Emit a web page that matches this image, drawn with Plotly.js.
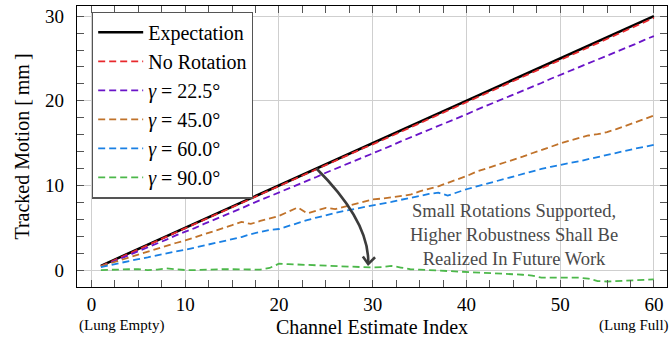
<!DOCTYPE html>
<html>
<head>
<meta charset="utf-8">
<script src="https://cdn.plot.ly/plotly-3.0.1.min.js"></script>
<style>html,body{margin:0;padding:0;background:#fff;}#chart{width:672px;height:339px;}</style>
</head>
<body>
<div id="chart"></div>
<script>
const channelIndex = [1,2,3,4,5,6,7,8,9,10,11,12,13,14,15,16,17,18,19,20,21,22,23,24,25,26,27,28,29,30,31,32,33,34,35,36,37,38,39,40,41,42,43,44,45,46,47,48,49,50,51,52,53,54,55,56,57,58,59,60];

const expectation = [0.5,1.0,1.5,2.0,2.5,3.0,3.5,4.0,4.5,5.0,5.5,6.0,6.5,7.0,7.5,8.0,8.5,9.0,9.5,10.0,10.5,11.0,11.5,12.0,12.5,13.0,13.5,14.0,14.5,15.0,15.5,16.0,16.5,17.0,17.5,18.0,18.5,19.0,19.5,20.0,20.5,21.0,21.5,22.0,22.5,23.0,23.5,24.0,24.5,25.0,25.5,26.0,26.5,27.0,27.5,28.0,28.5,29.0,29.5,30.0];

const noRotation = [0.45,0.95,1.45,1.95,2.45,2.95,3.45,3.95,4.45,4.95,5.45,5.95,6.45,6.95,7.45,7.9,8.4,8.9,9.4,9.9,10.4,10.9,11.4,11.9,12.4,12.9,13.4,13.9,14.4,14.85,15.35,15.85,16.35,16.85,17.35,17.85,18.35,18.85,19.35,19.85,20.35,20.85,21.35,21.85,22.35,22.85,23.35,23.85,24.35,24.8,25.3,25.8,26.3,26.8,27.3,27.8,28.3,28.8,29.3,29.8];

const gamma22 = [0.4,0.85,1.3,1.8,2.25,2.7,3.15,3.6,4.1,4.5,4.95,5.45,5.9,6.4,6.85,7.3,7.8,8.25,8.7,9.2,9.65,10.1,10.55,11.0,11.5,11.95,12.4,12.85,13.35,13.8,14.25,14.7,15.2,15.65,16.1,16.55,17.0,17.5,17.95,18.4,18.9,19.35,19.8,20.25,20.7,21.2,21.65,22.1,22.6,23.05,23.5,23.95,24.4,24.9,25.35,25.8,26.25,26.7,27.2,27.65];

const gamma45 = [0.45,0.8,1.15,1.5,1.8,2.15,2.5,2.85,3.2,3.5,3.85,4.2,4.6,4.95,5.3,5.7,5.45,5.8,6.1,6.4,6.9,7.4,6.7,7.0,7.35,7.2,7.5,7.8,8.1,8.35,8.45,8.6,8.7,8.9,9.3,9.6,9.9,10.3,10.7,11.1,11.6,11.95,12.3,12.65,13.0,13.4,13.8,14.2,14.6,14.95,15.3,15.6,15.9,16.05,16.3,16.65,17.05,17.45,17.85,18.25];

const gamma60 = [0.35,0.6,0.85,1.05,1.3,1.5,1.75,1.95,2.2,2.4,2.65,2.9,3.15,3.4,3.65,3.9,4.25,4.5,4.75,4.85,5.2,5.6,5.9,6.2,6.5,6.75,7.0,7.2,7.4,7.6,7.8,8.05,8.3,8.5,8.75,9.0,9.15,8.8,9.2,9.55,9.85,10.15,10.5,10.8,11.05,11.35,11.65,11.95,12.2,12.45,12.65,12.85,13.1,13.35,13.65,13.9,14.1,14.35,14.55,14.8];

const gamma90 = [0.0,0.05,0.1,0.1,0.1,0.0,0.05,0.2,0.1,0.0,0.0,0.05,0.1,0.1,0.1,0.1,0.1,0.05,0.25,0.75,0.7,0.65,0.6,0.55,0.5,0.45,0.4,0.35,0.3,0.3,0.35,0.5,0.3,0.1,0.05,0.0,-0.05,-0.1,-0.15,-0.2,-0.25,-0.3,-0.35,-0.4,-0.45,-0.55,-0.65,-0.9,-0.9,-0.9,-0.9,-0.9,-1.0,-1.3,-1.35,-1.3,-1.25,-1.2,-1.15,-1.1];

const seriesNames = ['Expectation','No Rotation','<i>γ</i> = 22.5°','<i>γ</i> = 45.0°','<i>γ</i> = 60.0°','<i>γ</i> = 90.0°'];
const seriesValues = [expectation, noRotation, gamma22, gamma45, gamma60, gamma90];
const seriesColors = ['#000000','#e8282c','#6a14c8','#c0722a','#1a80e4','#4cb84a'];

const xTicks = [0,10,20,30,40,50,60];
const yTicks = [0,10,20,30];
const noteText = 'Small Rotations Supported,<br>Higher Robustness Shall Be<br>Realized In Future Work';

const serif = "'Liberation Serif', 'Times New Roman', serif";

const traces = seriesValues.map((vals, i) => ({
  x: channelIndex,
  y: vals,
  name: seriesNames[i],
  type: 'scatter',
  mode: 'lines',
  line: {color: seriesColors[i], width: i === 0 ? 2.6 : 1.8, dash: i === 0 ? 'solid' : '7px,4px'}
}));

const layout = {
  width: 672, height: 339,
  margin: {l: 77, r: 5, t: 6, b: 52},
  paper_bgcolor: '#fff', plot_bgcolor: '#fff',
  font: {family: serif, size: 19, color: '#000'},
  showlegend: true,
  legend: {
    x: 0.0254, y: 0.98, xanchor: 'left', yanchor: 'top',
    bgcolor: '#fff', bordercolor: '#555', borderwidth: 1.2,
    font: {family: serif, size: 20, color: '#000'},
    itemwidth: 45, tracegroupgap: 0
  },
  xaxis: {
    range: [-1.55, 61.4], tickvals: xTicks, ticktext: xTicks.map(String),
    ticks: 'inside', ticklen: 7, tickcolor: '#555', tickwidth: 1,
    showline: true, linecolor: '#000', linewidth: 1.3, mirror: 'allticks',
    showgrid: true, gridcolor: '#cfcfcf', gridwidth: 1, zeroline: false,
    minor: {dtick: 2.5, tick0: 0, ticks: 'inside', ticklen: 7, tickcolor: '#555', showgrid: false},
    tickfont: {family: serif, size: 19},
    title: {text: 'Channel Estimate Index', font: {family: serif, size: 20}, standoff: 6}
  },
  yaxis: {
    range: [-2.0, 31.2], tickvals: yTicks, ticktext: yTicks.map(String),
    ticks: 'inside', ticklen: 7, tickcolor: '#555', tickwidth: 1,
    showline: true, linecolor: '#000', linewidth: 1.3, mirror: 'allticks',
    showgrid: true, gridcolor: '#cfcfcf', gridwidth: 1, zeroline: false,
    minor: {dtick: 2, tick0: 0, ticks: 'inside', ticklen: 7, tickcolor: '#555', showgrid: false},
    tickfont: {family: serif, size: 19},
    ticklabelstandoff: 8,
    title: {text: 'Tracked Motion [\u2009mm\u2009]', font: {family: serif, size: 20}, standoff: 10}
  },
  shapes: [
    {type: 'path', xref: 'x', yref: 'y', path: 'M24,12 Q29.7,5.7 29.52,0.71', line: {color: '#3c3c3c', width: 2.6}},
    {type: 'path', xref: 'x', yref: 'y', path: 'M28.95,1.6 L29.52,0.71 L30.25,1.52', line: {color: '#3c3c3c', width: 2.6}}
  ],
  annotations: [
    {x: 45.07, y: 4.13, xref: 'x', yref: 'y', text: noteText, showarrow: false,
     font: {family: serif, size: 18.5, color: '#4a4a4a'}, align: 'center', xanchor: 'center', yanchor: 'middle'},
    {x: 0.0746, y: 0, xref: 'paper', yref: 'paper', yshift: -28, text: '(Lung Empty)', showarrow: false,
     font: {family: serif, size: 15, color: '#000'}, xanchor: 'center', yanchor: 'top'},
    {x: 1.006, y: 0, xref: 'paper', yref: 'paper', yshift: -28, text: '(Lung Full)', showarrow: false,
     font: {family: serif, size: 15, color: '#000'}, xanchor: 'right', yanchor: 'top'}
  ]
};

Plotly.newPlot('chart', traces, layout, {displayModeBar: false, staticPlot: true});
</script>
</body>
</html>
